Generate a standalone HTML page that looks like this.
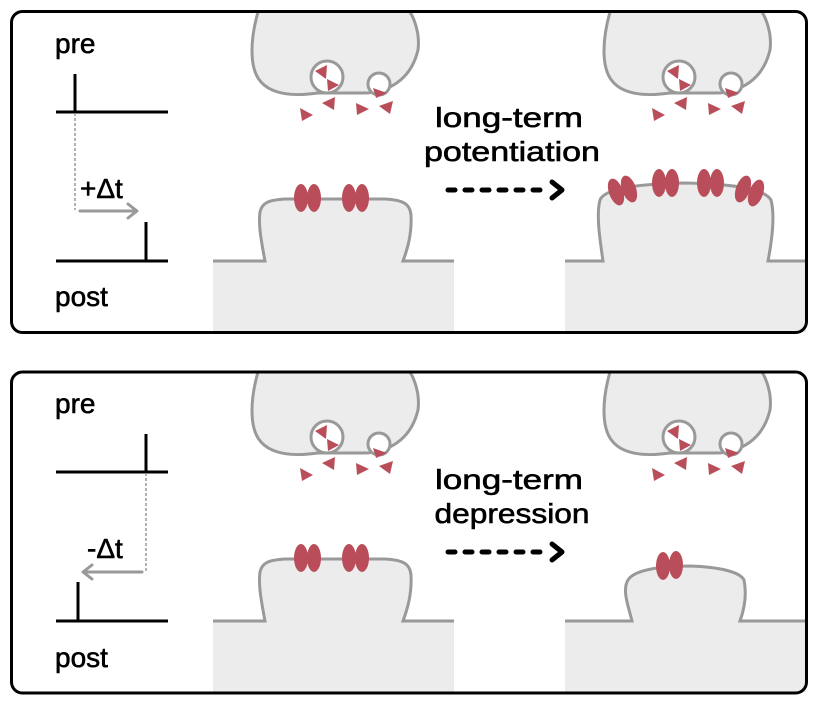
<!DOCTYPE html>
<html><head><meta charset="utf-8"><style>
html,body{margin:0;padding:0;background:#fff;}
svg{display:block;}
text{font-family:"Liberation Sans",Arial,sans-serif;fill:#000;stroke:#000;stroke-width:0.6px;}
</style></head><body>
<svg width="818" height="707" viewBox="0 0 818 707" xmlns="http://www.w3.org/2000/svg">
<defs>
<g id="pre">
  <path d="M258,12 C250,40 250,65 258,78 C268,94 290,97 318,93 L368,93 C395,90 412,75 418,50 C420,35 415,20 410,12 Z" fill="#ececec" stroke="none"/>
  <path d="M258,12 C250,40 250,65 258,78 C268,94 290,97 318,93 L368,93 C395,90 412,75 418,50 C420,35 415,20 410,12" fill="none" stroke="#999" stroke-width="3"/>
  <circle cx="327" cy="77" r="16" fill="#fff" stroke="#999" stroke-width="3"/>
  <circle cx="379" cy="84" r="11" fill="#fff" stroke="#999" stroke-width="3"/>
  <g fill="#b94e5a">
    <polygon points="315,71 327,65 326,79"/>
    <polygon points="327,79 339,85 328,91"/>
    <polygon points="373,88 387,93 376,98"/>
    <polygon points="300,108 313,115 302,121"/>
    <polygon points="322,103 335,97 334,110"/>
    <polygon points="356,103 369,109 357,115"/>
    <polygon points="379,106 393,101 390,114"/>
  </g>
</g>
<g id="post1">
  <rect x="213" y="261" width="241" height="71" fill="#ececec"/>
  <path d="M265,261 C262,245 258,225 260,212 C262,202 270,200 285,199 L385,199 C402,200 410,203 411,215 C412,235 407,250 403,261 Z" fill="#ececec"/>
  <path d="M213,261 L265,261 C262,245 258,225 260,212 C262,202 270,200 285,199 L385,199 C402,200 410,203 411,215 C412,235 407,250 403,261 L454,261" fill="none" stroke="#999" stroke-width="3"/>
  <g fill="#b94e5a">
    <ellipse cx="301" cy="198" rx="7" ry="14"/>
    <ellipse cx="314" cy="198" rx="7" ry="14"/>
    <ellipse cx="349" cy="198" rx="7" ry="14"/>
    <ellipse cx="362" cy="198" rx="7" ry="14"/>
  </g>
</g>
</defs>

<!-- TOP PANEL -->
<text x="55" y="53" font-size="28">pre</text>
<text x="55" y="306" font-size="28">post</text>
<g stroke="#000" stroke-width="3" fill="none">
  <line x1="56" y1="112" x2="168" y2="112"/>
  <line x1="75" y1="74" x2="75" y2="112"/>
  <line x1="56" y1="261" x2="168" y2="261"/>
  <line x1="146" y1="222" x2="146" y2="261"/>
</g>
<line x1="75" y1="113" x2="75" y2="210" stroke="#999" stroke-width="1.5" stroke-dasharray="3,2"/>
<g stroke="#999" stroke-width="3" fill="none" stroke-linecap="round" stroke-linejoin="round">
  <line x1="80" y1="211" x2="136" y2="211"/>
  <polyline points="128,204 137,211 128,218"/>
</g>
<text x="80" y="198" font-size="28">+Δt</text>

<use href="#pre"/>
<use href="#post1"/>
<use href="#pre" x="352"/>
<rect x="565" y="261" width="241" height="71" fill="#ececec"/>
<path d="M603,261 C600,240 596,215 600,200 C604,190 630,184 685,183 C740,184 765,190 771,200 C775,215 772,240 768,261 Z" fill="#ececec"/>
<path d="M565,261 L603,261 C600,240 596,215 600,200 C604,190 630,184 685,183 C740,184 765,190 771,200 C775,215 772,240 768,261 L807,261" fill="none" stroke="#999" stroke-width="3"/>
<g fill="#b94e5a">
  <ellipse cx="616" cy="192" rx="7" ry="14" transform="rotate(-20 616 192)"/>
  <ellipse cx="629" cy="189" rx="7" ry="14" transform="rotate(-20 629 189)"/>
  <ellipse cx="659" cy="183" rx="7" ry="14"/>
  <ellipse cx="672" cy="183" rx="7" ry="14"/>
  <ellipse cx="704" cy="183" rx="7" ry="14"/>
  <ellipse cx="717" cy="183" rx="7" ry="14"/>
  <ellipse cx="743" cy="189" rx="7" ry="14" transform="rotate(20 743 189)"/>
  <ellipse cx="756" cy="193" rx="7" ry="14" transform="rotate(20 756 193)"/>
</g>

<text x="509" y="127" font-size="28" text-anchor="middle" textLength="148" lengthAdjust="spacingAndGlyphs">long-term</text>
<text x="512" y="161" font-size="28" text-anchor="middle" textLength="176" lengthAdjust="spacingAndGlyphs">potentiation</text>
<g stroke="#000" stroke-width="5" stroke-linecap="round" fill="none" stroke-linejoin="round">
  <line x1="448" y1="190" x2="550" y2="190" stroke-dasharray="7,10"/>
  <polyline points="552,182 562,190 552,198"/>
</g>

<!-- BOTTOM PANEL -->
<text x="55" y="413" font-size="28">pre</text>
<text x="55" y="667" font-size="28">post</text>
<g stroke="#000" stroke-width="3" fill="none">
  <line x1="56" y1="472" x2="168" y2="472"/>
  <line x1="146" y1="434" x2="146" y2="472"/>
  <line x1="56" y1="621" x2="168" y2="621"/>
  <line x1="78" y1="582" x2="78" y2="621"/>
</g>
<line x1="146" y1="473" x2="146" y2="571" stroke="#999" stroke-width="1.5" stroke-dasharray="3,2"/>
<g stroke="#999" stroke-width="3" fill="none" stroke-linecap="round" stroke-linejoin="round">
  <line x1="142" y1="572" x2="84" y2="572"/>
  <polyline points="92,565 83,572 92,579"/>
</g>
<text x="87" y="558" font-size="28">-Δt</text>

<use href="#pre" y="360"/>
<use href="#post1" y="360"/>
<use href="#pre" x="352" y="360"/>
<rect x="565" y="621" width="241" height="71" fill="#ececec"/>
<path d="M632,621 C628,605 622,590 628,580 C634,570 660,566 690,566 C720,567 740,572 744,580 C747,595 744,610 740,621 Z" fill="#ececec"/>
<path d="M565,621 L632,621 C628,605 622,590 628,580 C634,570 660,566 690,566 C720,567 740,572 744,580 C747,595 744,610 740,621 L807,621" fill="none" stroke="#999" stroke-width="3"/>
<g fill="#b94e5a">
  <ellipse cx="663" cy="566" rx="7" ry="14"/>
  <ellipse cx="676" cy="565" rx="7" ry="14"/>
</g>

<text x="509" y="489" font-size="28" text-anchor="middle" textLength="148" lengthAdjust="spacingAndGlyphs">long-term</text>
<text x="512" y="523" font-size="28" text-anchor="middle" textLength="155" lengthAdjust="spacingAndGlyphs">depression</text>
<g stroke="#000" stroke-width="5" stroke-linecap="round" fill="none" stroke-linejoin="round">
  <line x1="448" y1="552" x2="550" y2="552" stroke-dasharray="7,10"/>
  <polyline points="552,544 562,552 552,560"/>
</g>

<!-- panel borders on top -->
<rect x="11.5" y="11.5" width="795" height="321" rx="11" fill="none" stroke="#000" stroke-width="3"/>
<rect x="11.5" y="372" width="795" height="321" rx="11" fill="none" stroke="#000" stroke-width="3"/>
</svg>
</body></html>
